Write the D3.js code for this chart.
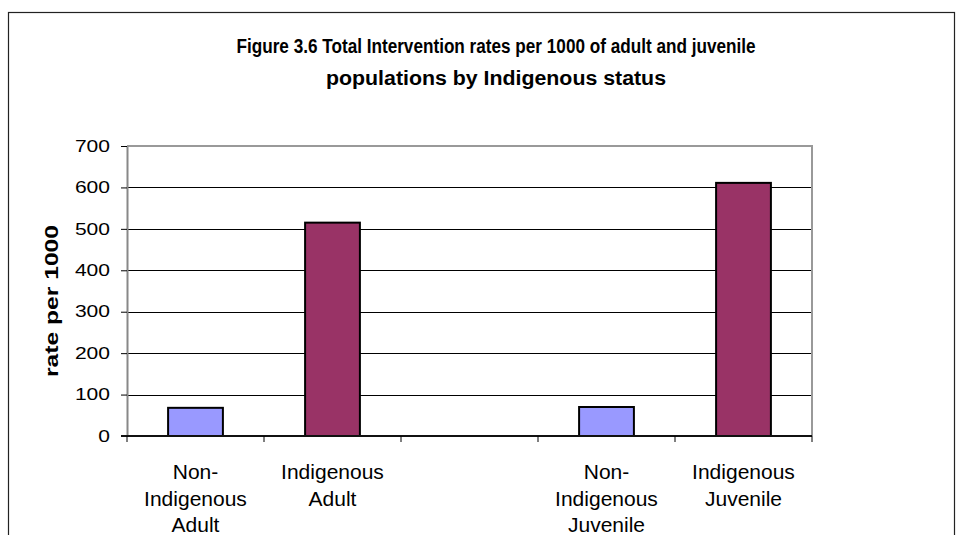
<!DOCTYPE html>
<html>
<head>
<meta charset="utf-8">
<script src="https://cdn.jsdelivr.net/npm/d3@7"></script>
<style>
  html, body { margin: 0; padding: 0; background: #fff; }
  svg { display: block; font-family: "Liberation Sans", Arial, sans-serif; }
</style>
</head>
<body>
<svg id="chart" width="960" height="535"></svg>
<script>
// Figure 3.6 data: total intervention rates per 1000 population
const categories = [
  "Non-Indigenous Adult",
  "Indigenous Adult",
  "",
  "Non-Indigenous Juvenile",
  "Indigenous Juvenile"
];
const rates = [68, 515, null, 70, 611];
const group = ["non", "ind", null, "non", "ind"];
const yTicks = [0, 100, 200, 300, 400, 500, 600, 700];
const titleLines = [
  "Figure 3.6 Total Intervention rates per 1000 of adult and juvenile",
  "populations by Indigenous status"
];
const yTitle = "rate per 1000";

const colours = { non: "#9999FF", ind: "#993366" };

const svg = d3.select("#chart");

// outer chart frame
svg.append("rect")
  .attr("x", 8.5).attr("y", 12.5)
  .attr("width", 946).attr("height", 540)
  .attr("fill", "#fff").attr("stroke", "#222").attr("stroke-width", 1.2);

const plot = { left: 127, right: 812, top: 146, bottom: 436 };

const x = d3.scaleBand()
  .domain(d3.range(categories.length))
  .range([plot.left, plot.right])
  .paddingInner(0).paddingOuter(0);

const y = d3.scaleLinear().domain([0, 700]).range([plot.bottom, plot.top]);

// title, two centred bold lines
const titleSizes = [{ w: 519, base: 53 }, { w: 340, base: 85 }];
svg.append("g").selectAll("text")
  .data(titleLines)
  .join("text")
  .attr("x", 496)
  .attr("y", (d, i) => titleSizes[i].base)
  .attr("text-anchor", "middle")
  .attr("font-size", 20)
  .attr("font-weight", "bold")
  .attr("textLength", (d, i) => titleSizes[i].w)
  .attr("lengthAdjust", "spacingAndGlyphs")
  .text(d => d);

// horizontal gridlines
svg.append("g").selectAll("line")
  .data(yTicks.filter(t => t > 0 && t < 700))
  .join("line")
  .attr("x1", plot.left).attr("x2", plot.right)
  .attr("y1", d => Math.round(y(d)) + 0.5).attr("y2", d => Math.round(y(d)) + 0.5)
  .attr("stroke", "#000").attr("stroke-width", 1);

// plot frame: top and right edges
svg.append("path")
  .attr("d", `M${plot.left},${y(700)}H${plot.right}V${plot.bottom}`)
  .attr("fill", "none").attr("stroke", "#999").attr("stroke-width", 2);

// bars
const barW = x.bandwidth() * 0.4;
svg.append("g").selectAll("rect")
  .data(rates.map((v, i) => ({ v, i })).filter(d => d.v != null))
  .join("rect")
  .attr("x", d => x(d.i) + (x.bandwidth() - barW) / 2)
  .attr("width", barW)
  .attr("y", d => y(d.v))
  .attr("height", d => y(0) - y(d.v))
  .attr("fill", d => colours[group[d.i]])
  .attr("stroke", "#000").attr("stroke-width", 2);

// y axis
const yAxis = svg.append("g")
  .attr("transform", `translate(${plot.left},0)`)
  .call(d3.axisLeft(y).tickValues(yTicks).tickSize(6).tickPadding(11).tickSizeOuter(0));
yAxis.select(".domain").attr("stroke", "#888").attr("stroke-width", 2);
yAxis.selectAll(".tick line").attr("stroke", "#000");
yAxis.selectAll(".tick text")
  .attr("font-size", 16.5)
  .attr("fill", "#000")
  .attr("font-family", "'Liberation Sans', Arial, sans-serif")
  .attr("textLength", d => String(d).length * 11.7)
  .attr("lengthAdjust", "spacingAndGlyphs");

// x axis with ticks at category boundaries
const xAxisG = svg.append("g")
  .attr("transform", `translate(0,${plot.bottom})`);
xAxisG.append("line")
  .attr("x1", plot.left - 6).attr("x2", plot.right)
  .attr("y1", 0).attr("y2", 0)
  .attr("stroke", "#111").attr("stroke-width", 2);
const bounds = d3.range(categories.length).map(i => x(i)).concat([x(categories.length - 1) + x.bandwidth()]);
xAxisG.selectAll("line.tk")
  .data(bounds)
  .join("line")
  .attr("class", "tk")
  .attr("x1", d => d).attr("x2", d => d)
  .attr("y1", 0).attr("y2", 6)
  .attr("stroke", "#000").attr("stroke-width", 1);

// category labels, wrapped after hyphens and spaces
function wrapLabel(s) {
  return s.split(/(?<=-)|\s+/).filter(w => w.length);
}
const labelG = svg.append("g");
categories.forEach((c, i) => {
  const lines = wrapLabel(c);
  const t = labelG.append("text")
    .attr("text-anchor", "middle")
    .attr("font-size", 21)
    .attr("fill", "#000");
  lines.forEach((ln, j) => {
    t.append("tspan")
      .attr("x", x(i) + x.bandwidth() / 2)
      .attr("y", 479 + j * 26.7)
      .text(ln);
  });
});

// y axis title
svg.append("text")
  .attr("transform", "translate(58,301) rotate(-90)")
  .attr("text-anchor", "middle")
  .attr("font-size", 18)
  .attr("font-weight", "bold")
  .attr("textLength", 152)
  .attr("lengthAdjust", "spacingAndGlyphs")
  .text(yTitle);
</script>
</body>
</html>
